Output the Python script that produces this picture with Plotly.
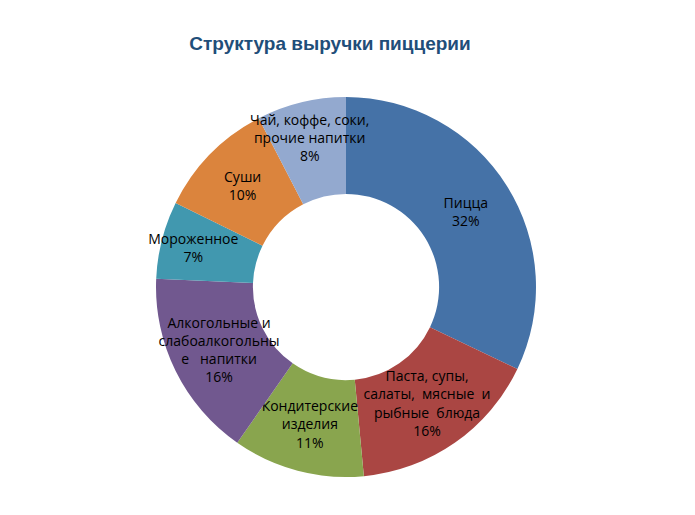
import plotly.graph_objects as go

categories = [
    "Пицца",
    "Паста, супы,<br>салаты,  мясные  и<br>рыбные  блюда",
    "Кондитерские<br>изделия",
    "Алкогольные и<br>слабоалкогольны<br>е   напитки",
    "Мороженное",
    "Суши",
    "Чай, коффе, соки,<br>прочие напитки",
]
values = [32.1, 16.4, 11.2, 16.0, 6.6, 10.1, 7.6]
colors = ["#4572A7", "#AA4643", "#89A54E", "#71588F", "#4198AF", "#DB843D", "#93A9CF"]

W, H = 695, 515
cx, cy, r = 338, 279, 190

fig = go.Figure(go.Pie(
    labels=categories,
    values=values,
    sort=False,
    direction="clockwise",
    rotation=0,
    hole=0.49,
    marker=dict(colors=colors, line=dict(width=0)),
    texttemplate="%{label}<br>%{percent:.0%}",
    textposition="inside",
    insidetextorientation="horizontal",
    textfont=dict(family="Open Sans, sans-serif", size=14, color="black"),
    showlegend=False,
    domain=dict(x=[(cx - r) / W, (cx + r) / W], y=[(H - cy - r) / H, (H - cy + r) / H]),
))

fig.update_layout(
    width=W, height=H,
    margin=dict(l=0, r=0, t=0, b=0),
    paper_bgcolor="white",
    uniformtext=dict(minsize=14, mode="show"),
    title=dict(
        text="<b>Структура выручки пиццерии</b>",
        x=322 / W, xanchor="center",
        y=1 - 35 / H, yanchor="middle",
        font=dict(family="Liberation Sans, Arial, sans-serif", size=19, color="#1F4E79"),
    ),
)

fig.write_html("out.html")
